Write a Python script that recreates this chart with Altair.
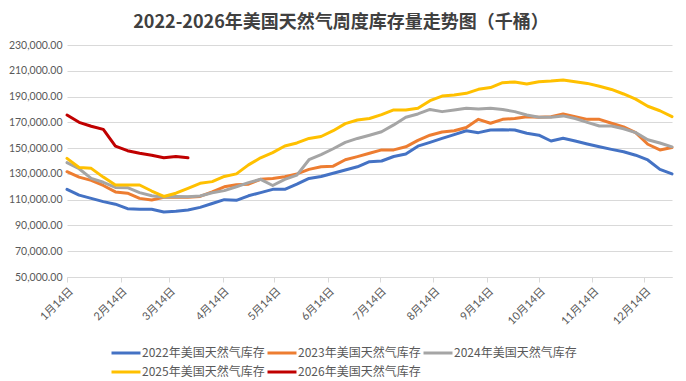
import altair as alt
import pandas as pd

# ---- data (thousand barrels), weekly points starting 1月14日 ----
series_names = ["2022年美国天然气库存", "2023年美国天然气库存", "2024年美国天然气库存",
                "2025年美国天然气库存", "2026年美国天然气库存"]
series_colors = ["#4472C4", "#ED7D31", "#A5A5A5", "#FFC000", "#C00000"]

v2022 = [118000, 113500, 111000, 108500, 106500, 103000, 102500, 102500, 100500, 101000,
         102000, 104000, 107000, 110000, 109500, 113000, 115500, 118000, 118000, 122000,
         126500, 128000, 130500, 133000, 135500, 139500, 140000, 143500, 145500, 151500,
         154500, 157500, 160500, 163500, 162000, 164000, 164300, 164000, 161500, 160000,
         155500, 157600, 155500, 153200, 151000, 149000, 147200, 144500, 140800, 133500,
         130000]
v2023 = [131700, 127500, 125000, 121000, 116000, 115000, 111000, 109700, 111800, 111800,
         111800, 112500, 116000, 120000, 121500, 122000, 125800, 126500, 127800, 130000,
         133500, 135500, 136000, 141000, 143400, 146000, 148600, 148600, 151000, 156000,
         160000, 162500, 163500, 166000, 172300, 169300, 172300, 173000, 174400, 174000,
         174400, 176500, 174400, 172300, 172300, 169300, 166500, 162000, 153000, 148600,
         150500]
v2024 = [138700, 134000, 126500, 123500, 119500, 119300, 115500, 113000, 111800, 112500,
         112300, 112800, 115400, 117000, 120000, 123200, 125800, 121000, 125800, 129000,
         141000, 145000, 149500, 154500, 157500, 160000, 162700, 168000, 174000, 176500,
         180000, 178300, 179600, 181000, 180300, 181000, 180000, 178300, 175700, 174000,
         174000, 175000, 173000, 170000, 167200, 167200, 165000, 162000, 156500, 154000,
         151000]
v2025 = [142000, 135000, 134300, 127500, 121400, 121400, 121400, 116700, 112500, 115000,
         118800, 122700, 124000, 128000, 130000, 137000, 142500, 146500, 151600, 154000,
         157500, 159000, 163500, 169000, 171800, 173000, 176000, 179600, 179600, 181000,
         186800, 190400, 191200, 192500, 195600, 197000, 200800, 201300, 199700, 201500,
         202000, 202800, 201500, 200200, 198000, 195500, 192000, 188000, 182500, 179000,
         174400]
v2026 = [175700, 170000, 167000, 164500, 151500, 148000, 146000, 144500, 142500, 143500,
         142500]

tick_months = list(range(1, 13))

week_dates = pd.date_range("2021-01-14", periods=51, freq="7D")

rows = []
for name, vals in zip(series_names, [v2022, v2023, v2024, v2025, v2026]):
    for d, v in zip(week_dates, vals):
        rows.append({"date": d, "value": v, "series": name})
df = pd.DataFrame(rows)

FONT = "Lato, Noto Sans CJK SC"
CJK = "Noto Sans CJK SC"
LABEL_COLOR = "#595959"
GRID = "#D9D9D9"

x_axis = alt.Axis(
    values=[alt.DateTime(year=2021, month=m, date=14) for m in tick_months],
    format="%-m月%-d日", formatType="time", labelAngle=-45, grid=False,
    domainColor=GRID, tickColor=GRID, tickSize=5, labelColor=LABEL_COLOR,
    labelFontSize=11, labelFont=FONT, labelPadding=3, title=None,
)
y_axis = alt.Axis(
    values=list(range(50000, 230001, 20000)), format=",.2f", grid=True,
    gridColor=GRID, domain=False, ticks=False, labelPadding=5,
    labelColor=LABEL_COLOR, labelFontSize=10.5, labelFont=FONT, title=None,
)

# legend line symbol: 13px reserved box, line drawn from 0 to ~29px
legend_symbol = "M-1,0H3.46"

chart = alt.Chart(df).mark_line(strokeWidth=3, strokeJoin="round", strokeCap="round").encode(
    x=alt.X("date:T", axis=x_axis,
            scale=alt.Scale(domain=[alt.DateTime(year=2021, month=1, date=14),
                                    alt.DateTime(year=2021, month=12, date=30)])),
    y=alt.Y("value:Q", axis=y_axis, scale=alt.Scale(domain=[50000, 230000], nice=False)),
    color=alt.Color("series:N",
                    scale=alt.Scale(domain=series_names, range=series_colors),
                    legend=alt.Legend(
                        title=None, orient="none", legendX=43, legendY=300,
                        direction="horizontal", columns=3, symbolType=legend_symbol,
                        symbolSize=169, symbolStrokeWidth=3, labelFontSize=12,
                        labelFont=CJK, labelColor=LABEL_COLOR, labelOffset=16,
                        gridAlign="all", columnPadding=-4, rowPadding=5, padding=0)),
    detail="series:N",
).properties(
    width=605, height=232,
    autosize=alt.AutoSizeParams(type="none"),
    padding={"left": 59, "top": 37, "right": 6, "bottom": 104},
    title=alt.TitleParams(
        "2022-2026年美国天然气周度库存量走势图（千桶）", fontSize=18,
        font=CJK, fontWeight="bold", color="#404040",
        anchor="middle", frame="bounds", offset=8),
).configure_view(stroke=None)

chart.save("out.html", embed_options={"renderer": "svg", "actions": False})
